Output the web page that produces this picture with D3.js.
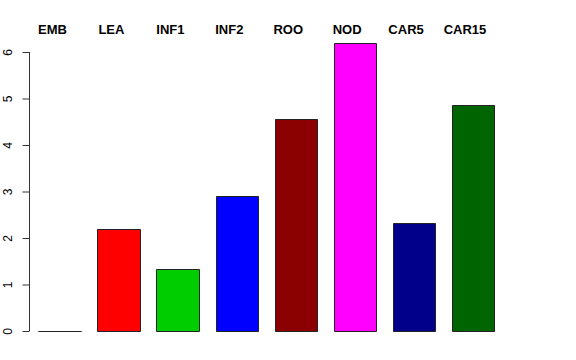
<!DOCTYPE html>
<html>
<head>
<meta charset="utf-8">
<script src="https://cdn.jsdelivr.net/npm/d3@7"></script>
<style>
  body { margin: 0; background: #fff; }
  svg { display: block; font-family: "Liberation Sans", Arial, sans-serif; }
</style>
</head>
<body>
<svg width="576" height="360"></svg>
<script>
// tissue categories and values
const tissues = ['EMB', 'LEA', 'INF1', 'INF2', 'ROO', 'NOD', 'CAR5', 'CAR15'];
const values = [0, 2.19, 1.33, 2.90, 4.55, 6.19, 2.32, 4.85];
const barColors = ['#ffffff', '#ff0000', '#00cd00', '#0000ff', '#8b0000', '#ff00ff', '#00008b', '#006400'];
const yTicks = [0, 1, 2, 3, 4, 5, 6];

const data = tissues.map((t, i) => ({ name: t, value: values[i], color: barColors[i] }));

let svg = d3.select('svg');

let x = d3.scaleBand()
    .domain(tissues)
    .range([38.3, 494.3])
    .paddingInner(0.284)
    .paddingOuter(0);

// labels across the top sit on their own even grid
let xLabel = d3.scalePoint()
    .domain(tissues)
    .range([52.5, 465]);

let y = d3.scaleLinear()
    .domain([0, 6])
    .range([331, 52]);

// bars drawn as closed paths so a zero-height bar still shows its outline
function barPath(d) {
    let x0 = Math.round(x(d.name)) + 0.5;
    let x1 = Math.round(x(d.name) + x.bandwidth()) + 0.5;
    let y0 = Math.round(y(0)) + 0.5;
    let y1 = Math.round(y(d.value)) + 0.5;
    return `M${x0},${y0}V${y1}H${x1}V${y0}Z`;
}

svg.append('g')
    .selectAll('path')
    .data(data)
    .enter()
    .append('path')
    .attr('d', barPath)
    .attr('fill', d => d.color)
    .attr('stroke', '#222')
    .attr('stroke-width', 1);

// y axis
let yAxis = d3.axisLeft(y)
    .tickValues(yTicks)
    .tickSize(7)
    .tickFormat(d3.format('d'));

let gy = svg.append('g')
    .attr('transform', 'translate(29.5,0)')
    .call(yAxis);

gy.select('.domain')
    .attr('d', `M0,${y(0)}V${y(6)}`)
    .attr('stroke', '#333');
gy.selectAll('.tick line').attr('stroke', '#333');
gy.selectAll('.tick text')
    .attr('font-size', 12)
    .attr('font-family', '"Liberation Sans", Arial, sans-serif')
    .attr('fill', '#000')
    .attr('text-anchor', 'middle')
    .attr('x', 0)
    .attr('dy', 0)
    .attr('transform', 'translate(-17.5,0) rotate(-90)');

// category labels on top
svg.append('g')
    .selectAll('text')
    .data(tissues)
    .enter()
    .append('text')
    .attr('x', d => xLabel(d))
    .attr('y', 34)
    .attr('text-anchor', 'middle')
    .attr('font-weight', 'bold')
    .attr('font-size', 13)
    .text(d => d);
</script>
</body>
</html>
